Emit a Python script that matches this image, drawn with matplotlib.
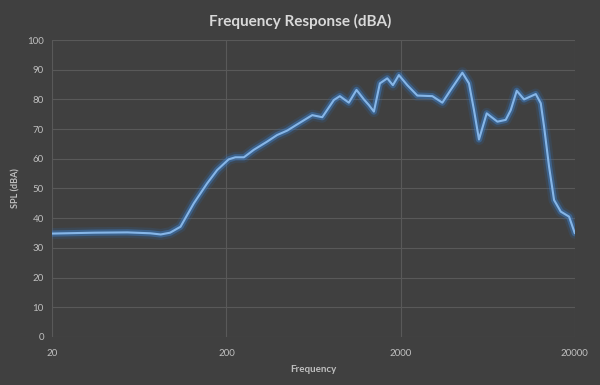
import matplotlib
matplotlib.use("Agg")
import matplotlib.pyplot as plt
import matplotlib.patheffects as pe
from matplotlib.ticker import FixedLocator, NullLocator

plt.rcParams["font.family"] = ["Lato", "DejaVu Sans"]

# frequency (Hz) and level (dBA)
freq = [20, 35, 54, 73, 84, 95, 109, 130, 155, 177, 206, 225, 252, 287, 343,
        391, 447, 510, 622, 710, 828, 896, 1009, 1117, 1231, 1315, 1405, 1521,
        1677, 1806, 1955, 2185, 2495, 3043, 3473, 3877, 4524, 4938, 5276, 5636,
        6242, 7190, 8025, 8576, 9284, 10223, 11938, 12754, 13325, 14234, 15205,
        16614, 18544, 20000]
spl = [34.8, 35.1, 35.2, 34.9, 34.5, 35.1, 37.1, 45.0, 51.7, 56.2, 59.8, 60.5,
       60.5, 63.0, 65.8, 68.0, 69.5, 71.6, 74.7, 74.0, 79.8, 81.1, 78.9, 83.2,
       80.0, 78.1, 75.9, 85.4, 87.1, 84.8, 88.2, 84.8, 81.3, 81.1, 78.9, 83.2,
       89.0, 85.4, 76.4, 66.5, 75.3, 72.5, 73.1, 76.4, 82.9, 80.0, 81.8, 78.7,
       70.8, 57.3, 46.1, 42.2, 40.5, 34.9]

x_ticks = [20, 200, 2000, 20000]
y_ticks = list(range(0, 101, 10))

bg = "#404040"
grid_col = "#595959"
text_col = "#bfbfbf"

fig = plt.figure(figsize=(6.0, 3.85), dpi=100, facecolor=bg)
ax = fig.add_axes([0.087, 0.125, 0.871, 0.771], facecolor=bg)

ax.plot(freq, spl, color="#86b6e8", lw=1.5, solid_joinstyle="round",
        solid_capstyle="round",
        path_effects=[pe.Stroke(linewidth=8, foreground="#2e6db5", alpha=0.18),
                      pe.Stroke(linewidth=4.5, foreground="#3d82d0", alpha=0.45),
                      pe.Normal()])

ax.set_xscale("log")
ax.set_xlim(20, 20000)
ax.set_ylim(0, 100)
ax.xaxis.set_major_locator(FixedLocator(x_ticks))
ax.xaxis.set_minor_locator(NullLocator())
ax.set_xticklabels([str(t) for t in x_ticks])
ax.set_yticks(y_ticks)

ax.grid(True, color=grid_col, lw=0.8)
ax.set_axisbelow(True)
for s in ax.spines.values():
    s.set_visible(False)
ax.tick_params(length=0, colors=text_col, labelsize=7)
ax.tick_params(axis="x", pad=9)
ax.tick_params(axis="y", pad=6)

ax.set_xlabel("Frequency", color=text_col, fontsize=7, fontweight="bold", labelpad=5)
ax.set_ylabel("SPL (dBA)", color=text_col, fontsize=6.5, fontweight="bold", labelpad=5)
fig.suptitle("Frequency Response (dBA)", color="#d9d9d9", fontsize=11,
             fontweight="bold", y=0.965)

fig.savefig("out.png", dpi=100, facecolor=bg)
